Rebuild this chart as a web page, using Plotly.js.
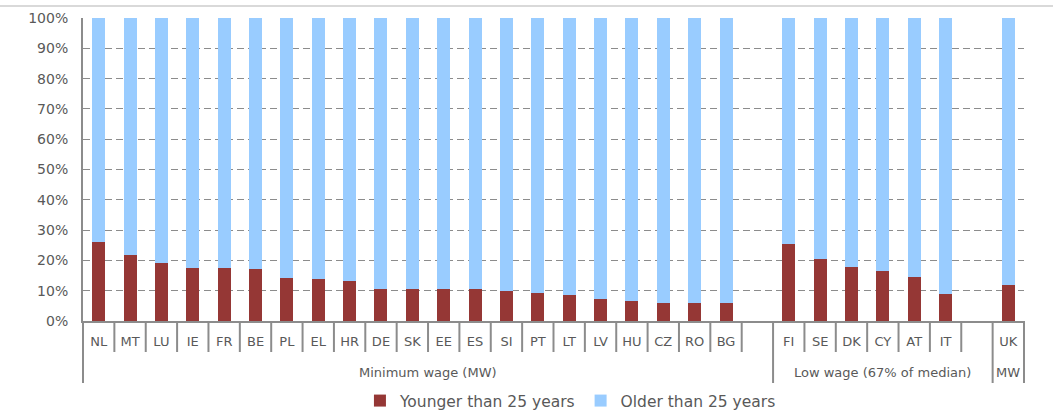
<!DOCTYPE html>
<html>
<head>
<meta charset="utf-8">
<script src="https://cdn.plot.ly/plotly-3.0.1.min.js"></script>
<style>
  html, body { margin: 0; padding: 0; background: #fff; }
  #chart { width: 1053px; height: 414px; }
</style>
</head>
<body>
<div id="chart"></div>
<script>
// Categories (blank slots separate the groups)
var categories = ['NL','MT','LU','IE','FR','BE','PL','EL','HR','DE','SK','EE','ES','SI','PT','LT','LV','HU','CZ','RO','BG',' ',
                  'FI','SE','DK','CY','AT','IT','  ',
                  'UK'];
var groupNames = ['Minimum wage (MW)', 'Low wage (67% of median)', 'MW'];
var groupSizes = [22, 7, 1];

// Share of low-wage / minimum-wage earners (%)
var younger = [26.0,21.7,19.2,17.5,17.5,17.1,14.1,13.8,13.2,10.7,10.7,10.4,10.4,9.9,9.1,8.6,7.4,6.5,6.1,6.1,6.1,null,
               25.5,20.4,17.8,16.5,14.4,9.0,null,
               11.9];
var older   = [74.0,78.3,80.8,82.5,82.5,82.9,85.9,86.2,86.8,89.3,89.3,89.6,89.6,90.1,90.9,91.4,92.6,93.5,93.9,93.9,93.9,null,
               74.5,79.6,82.2,83.5,85.6,91.0,null,
               88.1];
var seriesNames = ['Younger than 25 years', 'Older than 25 years'];
var seriesColors = ['#953735', '#99ccff'];
var yTicks = [0,10,20,30,40,50,60,70,80,90,100];

var AXIS = '#8c8c8c';
var TEXT = '#595959';
var FONT = 'DejaVu Sans, Verdana, sans-serif';

var traces = [
  { type: 'bar', name: seriesNames[0], x: categories, y: younger,
    marker: { color: seriesColors[0] }, hoverinfo: 'skip' },
  { type: 'bar', name: seriesNames[1], x: categories, y: older,
    marker: { color: seriesColors[1] }, hoverinfo: 'skip' }
];

// Plot height in px (used to place the divider lines below the axis)
var plotTop = 18, plotBottom = 321;
var ph = plotBottom - plotTop;
var shortLen = 31 / ph, longLen = 62 / ph;
var n = categories.length;

var shapes = [];
// group boundaries
var groupBounds = [0];
var acc = 0;
groupSizes.forEach(function (s) { acc += s; groupBounds.push(acc); });
for (var k = 0; k <= n; k++) {
  var isGroup = groupBounds.indexOf(k) >= 0;
  shapes.push({
    type: 'line', xref: 'paper', yref: 'paper',
    x0: k / n, x1: k / n, y0: 0, y1: -(isGroup ? longLen : shortLen),
    line: { color: AXIS, width: 2 }
  });
}
// top border line of the figure
shapes.push({
  type: 'line', xref: 'paper', yref: 'paper',
  x0: -83 / 941, x1: (1053 - 83) / 941, y0: (plotBottom - 6) / ph, y1: (plotBottom - 6) / ph,
  line: { color: '#cccccc', width: 1.5 }
});

var annotations = [];
var start = 0;
groupNames.forEach(function (g, i) {
  var center = start + (groupSizes[i] - 1) / 2;
  annotations.push({
    xref: 'x', yref: 'paper', x: center, y: -51 / ph,
    text: g, showarrow: false, xanchor: 'center', yanchor: 'middle',
    font: { family: FONT, size: 13, color: TEXT }
  });
  start += groupSizes[i];
});

var layout = {
  width: 1053, height: 414,
  margin: { l: 83, r: 29, t: plotTop, b: 414 - plotBottom, pad: 0, autoexpand: false },
  paper_bgcolor: '#ffffff', plot_bgcolor: '#ffffff',
  barmode: 'stack',
  bargap: 0.586,
  showlegend: true,
  font: { family: FONT, color: TEXT },
  xaxis: {
    type: 'category',
    range: [-0.5, n - 0.5],
    showline: true, linecolor: AXIS, linewidth: 2,
    ticks: 'outside', ticklen: 7, tickcolor: 'rgba(0,0,0,0)',
    showgrid: false, zeroline: false,
    tickfont: { family: FONT, size: 13, color: TEXT },
    tickangle: 0, automargin: false,
    fixedrange: true
  },
  yaxis: {
    range: [0, 100],
    tickvals: yTicks, ticktext: yTicks.map(function (v) { return v + '%'; }),
    showline: true, linecolor: AXIS, linewidth: 2,
    ticks: '', showgrid: true, gridcolor: AXIS, gridwidth: 1, griddash: '7px,4px',
    zeroline: false,
    tickfont: { family: FONT, size: 14, color: TEXT },
    ticklabelstandoff: 10, automargin: false,
    fixedrange: true
  },
  legend: {
    orientation: 'h', x: 0.518, xanchor: 'center', y: -80 / ph, yanchor: 'middle',
    font: { family: FONT, size: 15.5, color: TEXT },
    traceorder: 'normal', bgcolor: 'rgba(0,0,0,0)'
  },
  shapes: shapes,
  annotations: annotations
};

Plotly.newPlot('chart', traces, layout, { displayModeBar: false, staticPlot: true });
</script>
</body>
</html>
